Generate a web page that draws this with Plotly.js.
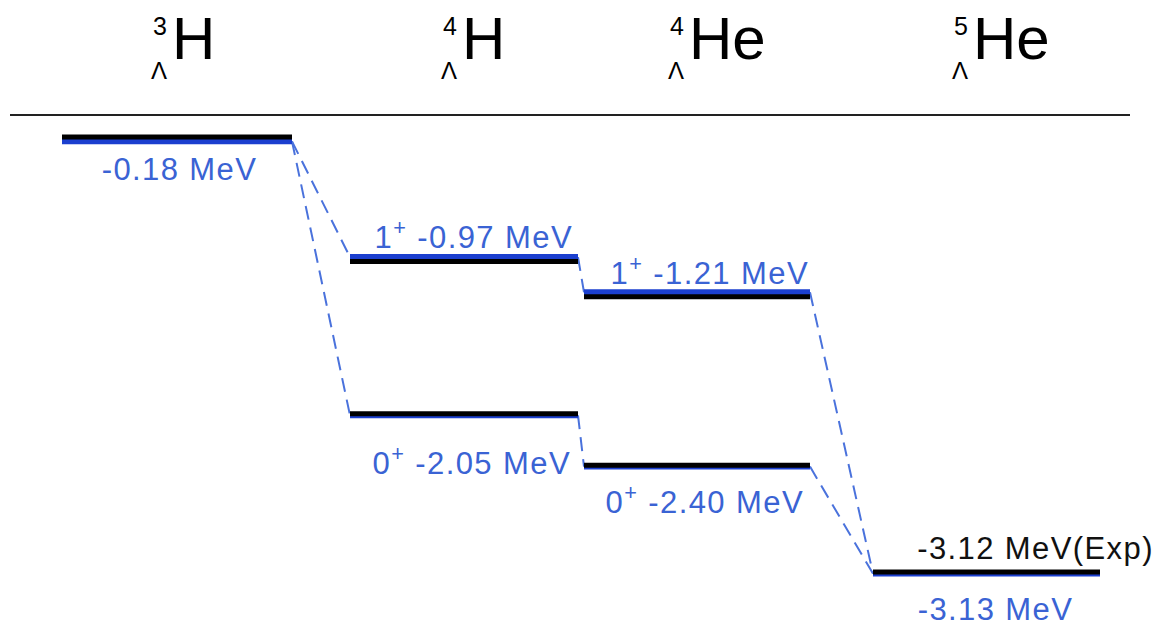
<!DOCTYPE html>
<html>
<head>
<meta charset="utf-8">
<script src="https://cdn.plot.ly/plotly-3.0.1.min.js"></script>
<style>
  html, body { margin: 0; padding: 0; background: #ffffff; }
  #chart { width: 1167px; height: 626px; }
</style>
</head>
<body>
<div id="chart"></div>
<script>
// Hypernuclei shown in each column
const elements = ['H', 'H', 'He', 'He'];
const massNumbers = [3, 4, 4, 5];

// Levels: column index, spin-parity, calculated and experimental Λ energies (MeV)
const levelColumn = [0, 1, 1, 2, 2, 3];
const levelSpin = ['', '1+', '0+', '1+', '0+', ''];
const calcEnergy = [-0.18, -0.97, -2.05, -1.21, -2.40, -3.13];
const expEnergy = [-0.15, -1.00, -2.04, -1.24, -2.39, -3.12];

// Dashed links between levels (from level, to level)
const linkFrom = [0, 0, 1, 2, 3, 4];
const linkTo = [1, 2, 3, 4, 5, 5];

// Break-up threshold
const thresholdEnergy = 0;

// ---- drawing ----
const colLeft = [62, 350, 584, 873];
const colRight = [292, 578, 810, 1100];
const BLUE_BAR = '#1b3fcf';
const BLUE_TXT = '#3a63d4';
const BLUE_DASH = '#4a72dc';
const FONT = 'Liberation Sans, Arial, Helvetica, sans-serif';

const traces = [];

// threshold line
traces.push({
  x: [10, 1130], y: [thresholdEnergy, thresholdEnergy],
  mode: 'lines', line: {color: '#222222', width: 2},
  hoverinfo: 'skip', showlegend: false
});

// dashed connectors between calculated levels
for (let k = 0; k < linkFrom.length; k++) {
  const a = linkFrom[k], b = linkTo[k];
  traces.push({
    x: [colRight[levelColumn[a]], colLeft[levelColumn[b]]],
    y: [calcEnergy[a], calcEnergy[b]],
    mode: 'lines', line: {color: BLUE_DASH, width: 2, dash: '14px,8px'},
    hoverinfo: 'skip', showlegend: false
  });
}

// calculated (blue) and experimental (black) level bars
for (let i = 0; i < calcEnergy.length; i++) {
  const c = levelColumn[i];
  traces.push({
    x: [colLeft[c], colRight[c]], y: [calcEnergy[i], calcEnergy[i]],
    mode: 'lines', line: {color: BLUE_BAR, width: 6},
    hoverinfo: 'skip', showlegend: false
  });
}
for (let i = 0; i < expEnergy.length; i++) {
  const c = levelColumn[i];
  traces.push({
    x: [colLeft[c], colRight[c]], y: [expEnergy[i], expEnergy[i]],
    mode: 'lines', line: {color: '#000000', width: 5},
    hoverinfo: 'skip', showlegend: false
  });
}

// level labels: centre x and vertical offset from the bar (px)
const labelX = [179, 474, 472, 710, 705, 995];
const labelShift = [-28, 22, -46, 21, -33, -36];
const annotations = [];
for (let i = 0; i < calcEnergy.length; i++) {
  const sp = levelSpin[i];
  const spinText = sp ? sp[0] + '<sup>' + sp[1] + '</sup> ' : '';
  annotations.push({
    x: labelX[i], y: calcEnergy[i], xref: 'x', yref: 'y',
    xanchor: 'center', yanchor: 'middle', yshift: labelShift[i],
    text: spinText + calcEnergy[i].toFixed(2) + ' MeV',
    showarrow: false, font: {family: FONT, size: 31, color: BLUE_TXT}
  });
}
// experimental value of the heaviest system
const lastExp = expEnergy.length - 1;
annotations.push({
  x: 1035, y: expEnergy[lastExp], xref: 'x', yref: 'y',
  xanchor: 'center', yanchor: 'middle', yshift: 24,
  text: expEnergy[lastExp].toFixed(2) + ' MeV(Exp)',
  showarrow: false, font: {family: FONT, size: 31, color: '#111111'}
});

// column headings: mass number / Λ prescripts and element symbol
const elemLeft = [170, 460, 687, 971];
const H = 626;
for (let c = 0; c < elements.length; c++) {
  annotations.push({
    x: elemLeft[c], y: 1 - 39 / H, xref: 'x', yref: 'paper',
    xanchor: 'left', yanchor: 'middle',
    text: elements[c], showarrow: false,
    font: {family: FONT, size: 60, color: '#000000'}
  });
  annotations.push({
    x: elemLeft[c] - 1, y: 1 - 26 / H, xref: 'x', yref: 'paper',
    xanchor: 'right', yanchor: 'middle',
    text: String(massNumbers[c]), showarrow: false,
    font: {family: FONT, size: 25, color: '#000000'}
  });
  annotations.push({
    x: elemLeft[c] - 1, y: 1 - 70 / H, xref: 'x', yref: 'paper',
    xanchor: 'right', yanchor: 'middle',
    text: 'Λ', showarrow: false,
    font: {family: FONT, size: 24, color: '#000000'}
  });
}

const layout = {
  width: 1167, height: 626,
  margin: {l: 0, r: 0, t: 0, b: 0},
  paper_bgcolor: '#ffffff', plot_bgcolor: '#ffffff',
  xaxis: {range: [0, 1167], visible: false, fixedrange: true},
  yaxis: {range: [-3.488, 0.785], visible: false, fixedrange: true},
  showlegend: false,
  annotations: annotations
};

Plotly.newPlot('chart', traces, layout, {staticPlot: true}).then(function () {
  // widen the level labels slightly
  document.querySelectorAll('.annotation-text').forEach(function (t) {
    if (t.textContent.indexOf('MeV') >= 0) t.style.letterSpacing = '1.4px';
  });
});
</script>
</body>
</html>
